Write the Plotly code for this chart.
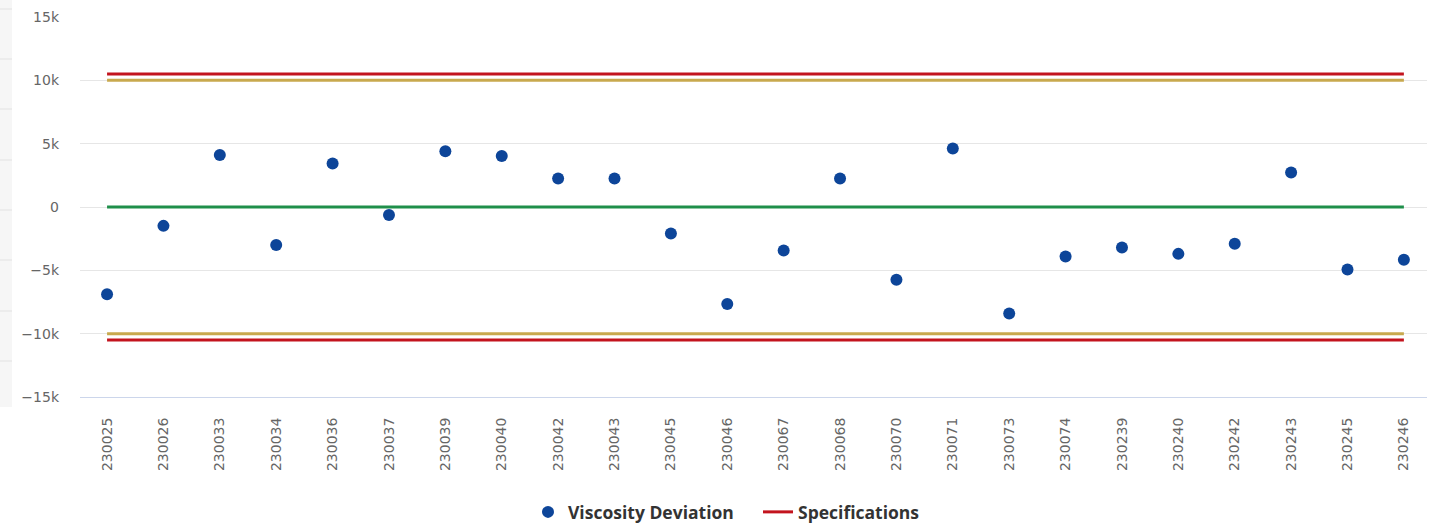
import plotly.graph_objects as go

categories = ["230025", "230026", "230033", "230034", "230036", "230037", "230039", "230040",
              "230042", "230043", "230045", "230046", "230067", "230068", "230070", "230071",
              "230073", "230074", "230239", "230240", "230242", "230243", "230245", "230246"]
viscosity_deviation = [-6880, -1490, 4110, -3000, 3430, -640, 4410, 4030,
                       2250, 2250, -2100, -7650, -3430, 2250, -5740, 4620,
                       -8400, -3900, -3190, -3700, -2900, 2730, -4940, -4170]
spec_upper = 10500
spec_lower = -10500
limit_upper = 10000
limit_lower = -10000
target = 0
y_tick_values = [-15000, -10000, -5000, 0, 5000, 10000, 15000]
y_tick_labels = ["−15k", "−10k", "−5k", "0", "5k", "10k", "15k"]

W, H = 1435, 524
L, R, T, B = 80, 8, 17, 127
PW = W - L - R
PH = H - T - B


def px_x(p):
    return (p - L) / PW


def px_y(p):
    return (H - B - p) / PH


BLUE = "#0d4599"
RED = "#c3141e"
GOLD = "#c8a94e"
GREEN = "#1f8f4a"

ends = [categories[0], categories[-1]]

fig = go.Figure()

for val in (limit_upper, limit_lower):
    fig.add_trace(go.Scatter(x=ends, y=[val, val], mode="lines",
                             line=dict(color=GOLD, width=3), showlegend=False, hoverinfo="skip"))
fig.add_trace(go.Scatter(x=ends, y=[target, target], mode="lines",
                         line=dict(color=GREEN, width=3), showlegend=False, hoverinfo="skip"))
fig.add_trace(go.Scatter(x=ends, y=[spec_upper, spec_upper], mode="lines",
                         line=dict(color=RED, width=3), name="Specifications",
                         legendgroup="spec", legendrank=2))
fig.add_trace(go.Scatter(x=ends, y=[spec_lower, spec_lower], mode="lines",
                         line=dict(color=RED, width=3), name="Specifications",
                         legendgroup="spec", showlegend=False))
fig.add_trace(go.Scatter(x=categories, y=viscosity_deviation, mode="markers",
                         marker=dict(color=BLUE, size=12, line=dict(width=0)),
                         name="Viscosity Deviation", legendrank=1))

shapes = []
# left side panel strip (cropped neighbouring element)
shapes.append(dict(type="rect", xref="paper", yref="paper",
                   x0=px_x(0), x1=px_x(12), y0=px_y(407), y1=px_y(0),
                   fillcolor="#f6f6f6", line=dict(width=0), layer="below"))
for p in [9, 59, 109, 160, 210, 260, 311, 361]:
    shapes.append(dict(type="line", xref="paper", yref="paper",
                       x0=px_x(0), x1=px_x(12), y0=px_y(p), y1=px_y(p),
                       line=dict(color="#e2e2e2", width=1)))

fig.update_layout(
    width=W, height=H,
    margin=dict(l=L, r=R, t=T, b=B, pad=0, autoexpand=False),
    paper_bgcolor="white", plot_bgcolor="white",
    font=dict(family="DejaVu Sans", size=14, color="#666666"),
    showlegend=True,
    legend=dict(orientation="h", x=px_x(528), xanchor="left", y=px_y(512), yanchor="middle",
                font=dict(family="Open Sans", size=17.5, color="#333333", weight="bold"),
                itemwidth=30, entrywidth=185, entrywidthmode="pixels",
                tracegroupgap=0, bgcolor="rgba(0,0,0,0)"),
    shapes=shapes,
    xaxis=dict(type="category", categoryorder="array", categoryarray=categories,
               range=[-0.48, 23.41], showgrid=False, zeroline=False,
               showline=True, linecolor="#ccd6eb", linewidth=1, ticks="",
               tickangle=-90, ticklabelstandoff=14,
               tickfont=dict(family="DejaVu Sans", size=14, color="#666666")),
    yaxis=dict(range=[-15000, 15000], tickvals=y_tick_values, ticktext=y_tick_labels,
               showgrid=True, gridcolor="#e6e6e6", gridwidth=1, zeroline=False,
               showline=False, ticks="", ticklabelstandoff=20,
               tickfont=dict(family="DejaVu Sans", size=14, color="#666666")),
)
fig.write_html("out.html", config={"displayModeBar": False},
               post_script="document.body.style.margin='0';document.body.style.overflow='hidden';")
